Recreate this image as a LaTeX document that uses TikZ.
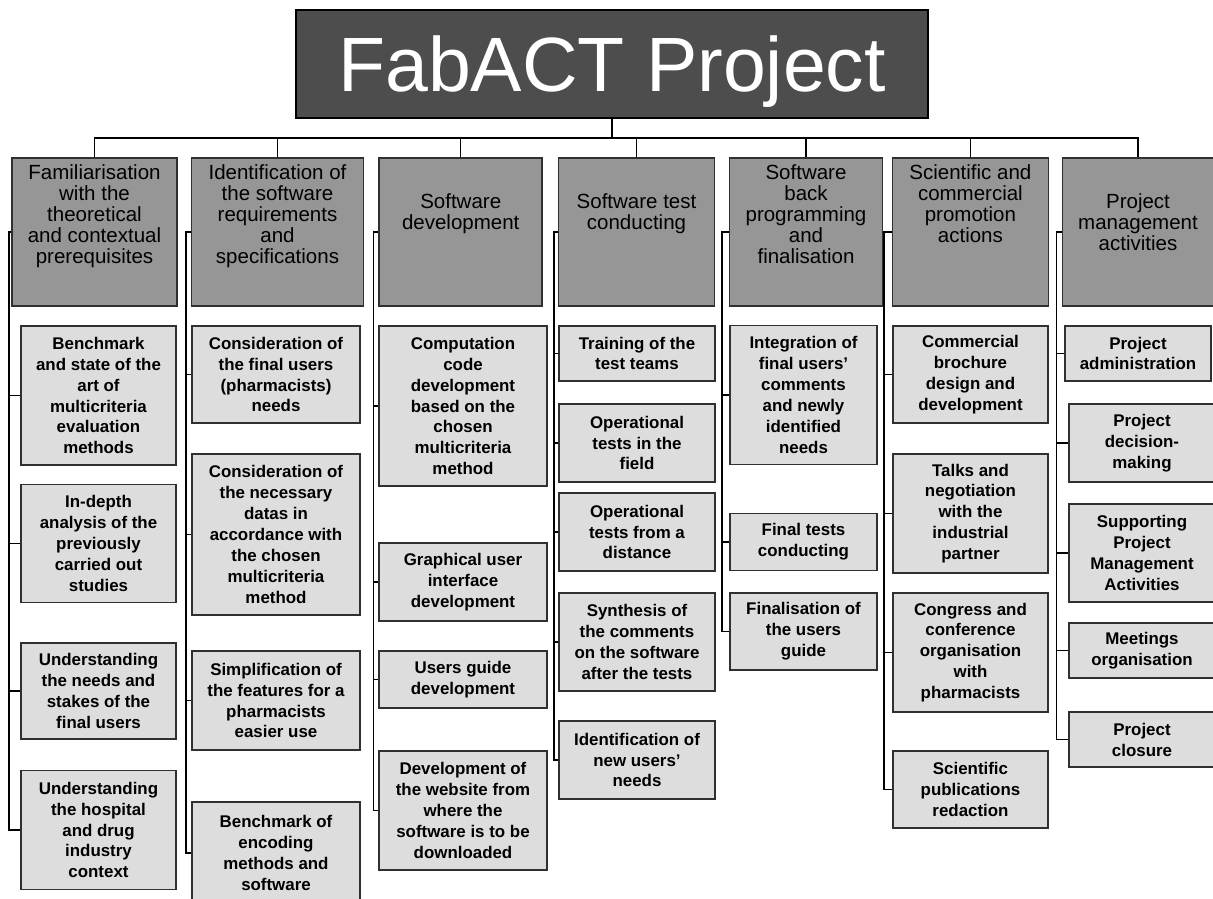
\documentclass[tikz,border=0pt]{standalone}
\usepackage{fontspec}
\setmainfont{Liberation Sans}
\usetikzlibrary{positioning}

\definecolor{titlegray}{HTML}{4D4D4D}
\definecolor{hdrgray}{HTML}{969696}
\definecolor{leafgray}{HTML}{DDDDDD}
\definecolor{boxline}{HTML}{303030}

\begin{document}
\begin{tikzpicture}[
    x=1pt, y=-1pt,
    top/.style={rectangle, draw=black, line width=1.5pt, fill=titlegray, text=white, minimum width=632pt, minimum height=108pt, font=\fontsize{77}{80}\selectfont},
    hdr/.style={rectangle, draw=boxline, line width=1.5pt, fill=hdrgray, minimum height=148pt},
    hdrtxt/.style={align=center, inner sep=0pt, font=\fontsize{20.5}{21}\selectfont},
    leaf/.style={rectangle, draw=boxline, line width=1.5pt, fill=leafgray, align=center, inner sep=0pt, font=\fontsize{16.9}{20.9}\selectfont\bfseries},
    link/.style={draw=black, line width=1.3pt},
    trunk/.style={draw=black, line width=2.2pt},
]
    \useasboundingbox (0,0) rectangle (1213,898);

    % Top box
    \node[top, text depth=0pt] (project) at (612,64) {FabACT Project};
    \coordinate (bus) at (612,138);

    % Main branches
    \node[hdr, minimum width=165pt] (fam) at (94.5,232) {};
    \node[hdr, minimum width=172pt] (req) at (277.5,232) {};
    \node[hdr, minimum width=163pt] (dev) at (460.7,232) {};
    \node[hdr, minimum width=156pt] (test) at (636.5,232) {};
    \node[hdr, minimum width=153pt] (back) at (806,232) {};
    \node[hdr, minimum width=156pt] (promo) at (970.4,232) {};
    \node[hdr, minimum width=151pt] (manag) at (1138,232) {};

    \node[hdrtxt, below=7pt of fam.north] (famtxt) {Familiarisation\\with the\\theoretical\\and contextual\\prerequisites};
    \node[hdrtxt, below=7pt of req.north] (reqtxt) {Identification of\\the software\\requirements\\and\\specifications};
    \node[hdrtxt, below=36pt of dev.north] (devtxt) {Software\\development};
    \node[hdrtxt, below=36pt of test.north] (testtxt) {Software test\\conducting};
    \node[hdrtxt, below=7pt of back.north] (backtxt) {Software\\back\\programming\\and\\finalisation};
    \node[hdrtxt, below=7pt of promo.north] (promotxt) {Scientific and\\commercial\\promotion\\actions};
    \node[hdrtxt, below=36pt of manag.north] (managtxt) {Project\\management\\activities};

    % Familiarisation
    \node[leaf, minimum width=155pt, minimum height=139pt] (f1) at (98.5,395.5) {Benchmark\\and state of the\\art of\\multicriteria\\evaluation\\methods};
    \node[leaf, minimum width=155pt, minimum height=118pt] (f2) at (98.5,543.4) {In-depth\\analysis of the\\previously\\carried out\\studies};
    \node[leaf, minimum width=155pt, minimum height=96pt] (f3) at (98.5,691) {Understanding\\the needs and\\stakes of the\\final users};
    \node[leaf, minimum width=155pt, minimum height=119pt] (f4) at (98.5,830) {Understanding\\the hospital\\and drug\\industry\\context};

    % Requirements
    \node[leaf, minimum width=168pt, minimum height=97pt] (r1) at (276,374.5) {Consideration of\\the final users\\(pharmacists)\\needs};
    \node[leaf, minimum width=168pt, minimum height=161pt] (r2) at (276,534.5) {Consideration of\\the necessary\\datas in\\accordance with\\the chosen\\multicriteria\\method};
    \node[leaf, minimum width=168pt, minimum height=99pt] (r3) at (276,700.5) {Simplification of\\the features for a\\pharmacists\\easier use};
    \node[leaf, minimum width=168pt, minimum height=102pt] (r4) at (276,853) {Benchmark of\\encoding\\methods and\\software};

    % Development
    \node[leaf, minimum width=168pt, minimum height=160pt] (d1) at (463,406) {Computation\\code\\development\\based on the\\chosen\\multicriteria\\method};
    \node[leaf, minimum width=168pt, minimum height=78pt] (d2) at (463,582) {Graphical user\\interface\\development};
    \node[leaf, minimum width=168pt, minimum height=57pt] (d3) at (463,679.5) {Users guide\\development};
    \node[leaf, minimum width=168pt, minimum height=119pt] (d4) at (463,810.5) {Development of\\the website from\\where the\\software is to be\\downloaded};

    % Tests
    \node[leaf, minimum width=156pt, minimum height=55pt] (t1) at (637,353.5) {Training of the\\test teams};
    \node[leaf, minimum width=156pt, minimum height=78pt] (t2) at (637,443) {Operational\\tests in the\\field};
    \node[leaf, minimum width=156pt, minimum height=78pt] (t3) at (637,532) {Operational\\tests from a\\distance};
    \node[leaf, minimum width=156pt, minimum height=98pt] (t4) at (637,642) {Synthesis of\\the comments\\on the software\\after the tests};
    \node[leaf, minimum width=156pt, minimum height=78pt] (t5) at (637,760) {Identification of\\new users’\\needs};

    % Back programming
    \node[leaf, minimum width=147pt, minimum height=139pt] (b1) at (803.5,395) {Integration of\\final users’\\comments\\and newly\\identified\\needs};
    \node[leaf, minimum width=147pt, minimum height=57pt] (b2) at (803.5,542) {Final tests\\conducting};
    \node[leaf, minimum width=147pt, minimum height=77pt] (b3) at (803.5,631.5) {Finalisation of\\the users\\guide};

    % Promotion
    \node[leaf, minimum width=155pt, minimum height=97pt] (p1) at (970.5,374.5) {Commercial\\brochure\\design and\\development};
    \node[leaf, minimum width=155pt, minimum height=119pt] (p2) at (970.5,513.5) {Talks and\\negotiation\\with the\\industrial\\partner};
    \node[leaf, minimum width=155pt, minimum height=119pt] (p3) at (970.5,652.5) {Congress and\\conference\\organisation\\with\\pharmacists};
    \node[leaf, minimum width=155pt, minimum height=77pt] (p4) at (970.5,789.5) {Scientific\\publications\\redaction};

    % Management
    \node[leaf, minimum width=146pt, minimum height=55pt] (m1) at (1138,353.5) {Project\\administration};
    \node[leaf, minimum width=146pt, minimum height=78pt] (m2) at (1142,443) {Project\\decision-\\making};
    \node[leaf, minimum width=146pt, minimum height=98pt] (m3) at (1142,553) {Supporting\\Project\\Management\\Activities};
    \node[leaf, minimum width=146pt, minimum height=55pt] (m4) at (1142,650.5) {Meetings\\organisation};
    \node[leaf, minimum width=146pt, minimum height=55pt] (m5) at (1142,739.5) {Project\\closure};

    % Tree links
    \draw[trunk] (project.south) -- (bus);
    \draw[link] (bus) -| (fam.north);
    \draw[link] (bus) -| (req.north);
    \draw[link] (bus) -| (dev.north);
    \draw[link] (bus) -| (test.north);
    \draw[link] (bus) -| (back.north);
    \draw[link] (bus) -| (promo.north);
    \draw[link] (bus) -| (manag.north);

    \coordinate (sf) at (9,232);
    \coordinate (sr) at (186,232);
    \coordinate (sd) at (373.5,232);
    \coordinate (st) at (554,232);
    \coordinate (sb) at (722,232);
    \coordinate (sp) at (884,232);
    \coordinate (sm) at (1056.5,232);

    \draw[link] (fam.west) -- (sf) |- (f1.west) (sf) |- (f2.west) (sf) |- (f3.west) (sf) |- (f4.west);
    \draw[link] (req.west) -- (sr) |- (r1.west) (sr) |- (r2.west) (sr) |- (r3.west) (sr) |- (r4.west);
    \draw[link] (dev.west) -- (sd) |- (d1.west) (sd) |- (d2.west) (sd) |- (d3.west) (sd) |- (d4.west);
    \draw[link] (test.west) -- (st) |- (t1.west) (st) |- (t2.west) (st) |- (t3.west) (st) |- (t4.west) (st) |- (t5.west);
    \draw[link] (back.west) -- (sb) |- (b1.west) (sb) |- (b2.west) (sb) |- (b3.west);
    \draw[link] (promo.west) -- (sp) |- (p1.west) (sp) |- (p2.west) (sp) |- (p3.west) (sp) |- (p4.west);
    \draw[link] (manag.west) -- (sm) |- (m1.west) (sm) |- (m2.west) (sm) |- (m3.west) (sm) |- (m4.west) (sm) |- (m5.west);

\end{tikzpicture}
\end{document}
